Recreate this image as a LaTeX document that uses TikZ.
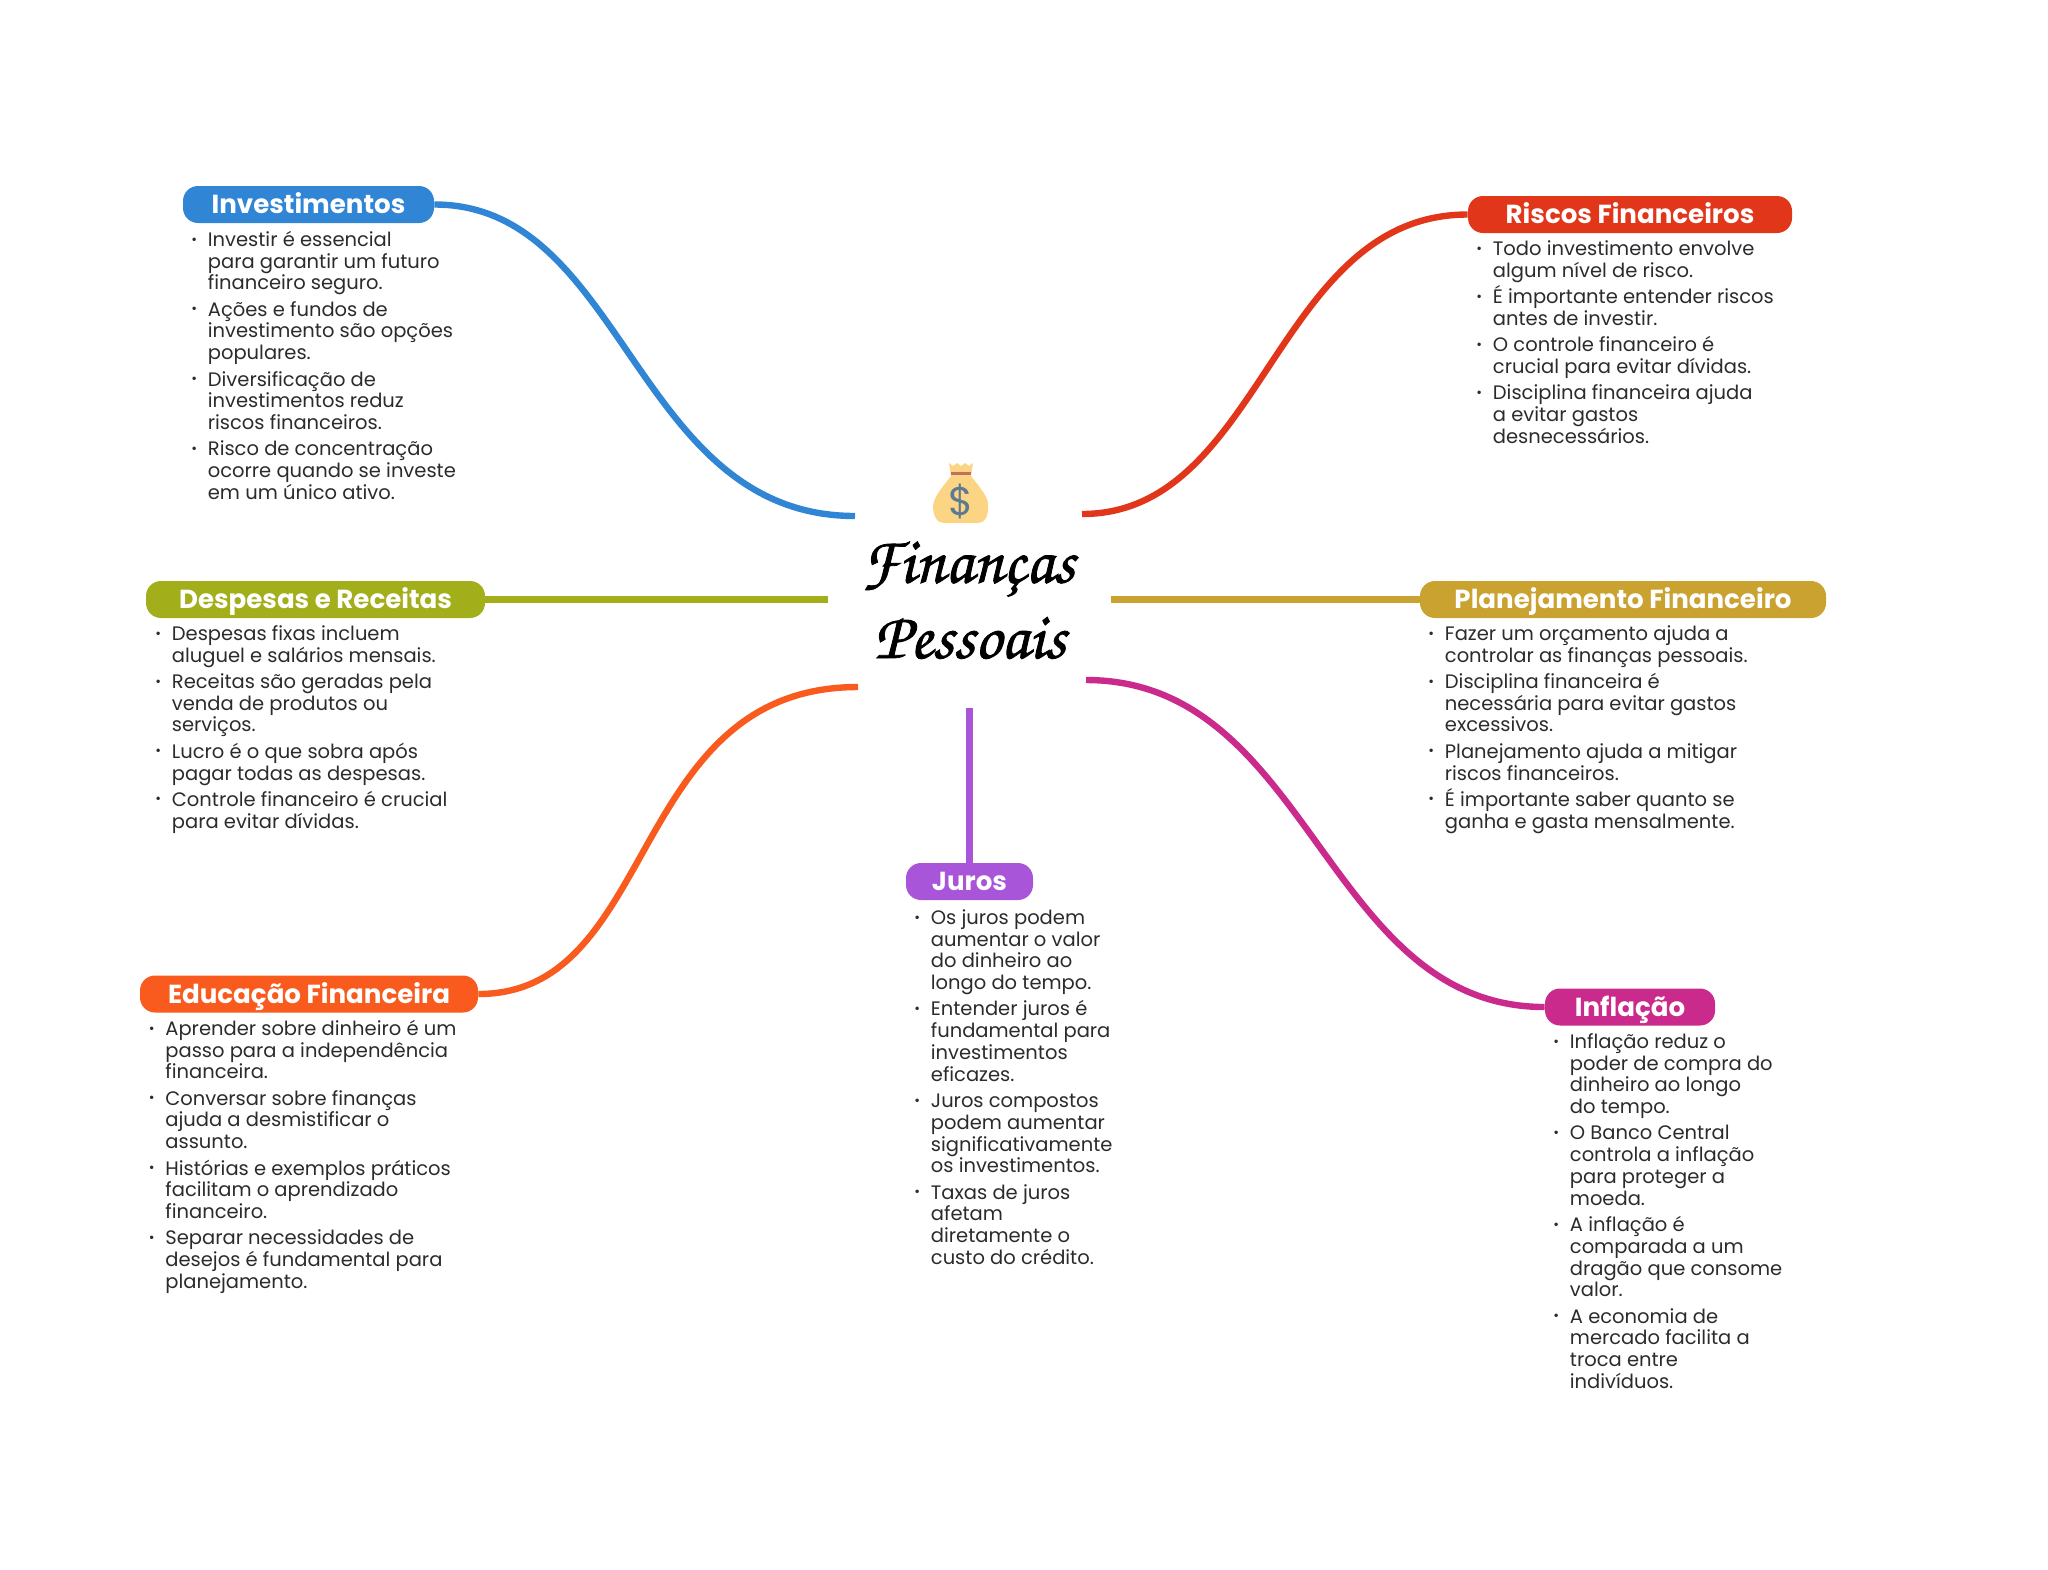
\documentclass[tikz,border=0pt]{standalone}
\usepackage{fontspec}
\setmainfont{Poppins}
\newfontfamily\titlefont[AutoFakeBold=1.2]{TeX Gyre Chorus}
\usepackage{tikz}
\usetikzlibrary{positioning}

\definecolor{invblue}{HTML}{3085D4}
\definecolor{riskred}{HTML}{E2361A}
\definecolor{despolive}{HTML}{A2AF1B}
\definecolor{plangold}{HTML}{C9A22F}
\definecolor{eduorange}{HTML}{F95B1F}
\definecolor{jurpurple}{HTML}{A855D9}
\definecolor{inflmagenta}{HTML}{C92A8B}
\definecolor{bagyellow}{HTML}{FBD484}
\definecolor{bagband}{HTML}{C4705A}
\definecolor{bagsign}{HTML}{5E7A93}
\definecolor{bodygray}{HTML}{2B2B2B}

\newcommand{\bul}{\rule{0pt}{8pt}\llap{\raisebox{1.2pt}{\fontsize{7}{7}\selectfont\textbullet}\hspace{5.4pt}}}

\begin{document}
\begin{tikzpicture}[
  x=0.5pt, y=-0.5pt,
  topic/.style={rounded corners=7.5pt, text=white, minimum height=18.5pt,
                inner sep=0pt, text height=11pt, text depth=2pt,
                font=\fontsize{13.05}{13}\selectfont\bfseries},
  notes/.style={anchor=north west, inner sep=0pt, align=left, text=bodygray,
                font=\fontsize{9.75}{10.87}\selectfont},
  title/.style={font=\titlefont\fontsize{33}{33}\selectfont\bfseries},
  link/.style={line width=3.2pt},
]
\useasboundingbox (0,0) rectangle (2048,1569);

% centre
\node[title] (titleA) at (968,569) {Finanças};
\node[title] (titleB) at (970,638) {Pessoais};

% money bag
\fill[bagyellow] (949,463) -- (953,466) -- (957,463) -- (961,466) -- (965,463) -- (969,466) -- (973,463)
  -- (971,476) .. controls (980,488) and (990,498) .. (988,508)
  .. controls (988,518) and (984,523) .. (978,523) -- (944,523)
  .. controls (937,523) and (933,516) .. (933,506) .. controls (934,496) and (942,488) .. (951,476) -- cycle;
\fill[bagband] (951,472) rectangle (971,475);
\node[text=bagsign, font=\fontsize{20}{20}\selectfont] (bagsign) at (961,501) {\$};

% topics
\node[topic, fill=invblue, minimum width=125.5pt] (inv) at (308.5,204.5) {Investimentos};
\node[topic, fill=riskred, minimum width=162pt] (risk) at (1630,214.5) {Riscos Financeiros};
\node[topic, fill=despolive, minimum width=169.5pt] (desp) at (315.5,599.5) {Despesas e Receitas};
\node[topic, fill=plangold, minimum width=203pt] (plan) at (1623,599.5) {Planejamento Financeiro};
\node[topic, fill=eduorange, minimum width=169pt] (edu) at (309,994) {Educação Financeira};
\node[topic, fill=jurpurple, minimum width=63.5pt] (jur) at (969.5,881.5) {Juros};
\node[topic, fill=inflmagenta, minimum width=85pt] (infl) at (1630,1007) {Inflação};

% free ends near the centre
\coordinate (cinv) at (855,516);
\coordinate (crisk) at (1082,514);
\coordinate (cdesp) at (828,599.5);
\coordinate (cplan) at (1111,599.5);
\coordinate (cedu) at (858,687);
\coordinate (cjur) at (969.5,708);
\coordinate (cinfl) at (1086,680);

\draw[link, invblue] (inv.east) .. controls +(191,0) and +(-221,0) .. (cinv);
\draw[link, riskred] (risk.west) .. controls +(-193,0) and +(181,0) .. (crisk);
\draw[link, despolive] (desp.east) -- (cdesp);
\draw[link, plangold] (plan.west) -- (cplan);
\draw[link, eduorange] (edu.east) .. controls +(181,0) and +(-231,0) .. (cedu);
\draw[link, jurpurple] (jur.north) -- (cjur);
\draw[link, inflmagenta] (infl.west) .. controls +(-220,0) and +(225,0) .. (cinfl);

% notes
\node[notes] (invnotes) at (207.5,230) {\bul Investir é essencial\\para garantir um futuro\\financeiro seguro.\\[2.3pt]
  \bul Ações e fundos de\\investimento são opções\\populares.\\[2.3pt]
  \bul Diversificação de\\investimentos reduz\\riscos financeiros.\\[2.3pt]
  \bul Risco de concentração\\ocorre quando se investe\\em um único ativo.};
\node[notes] (risknotes) at (1492.5,239) {\bul Todo investimento envolve\\algum nível de risco.\\[2.3pt]
  \bul \smash{É} importante entender riscos\\antes de investir.\\[2.3pt]
  \bul O controle financeiro é\\crucial para evitar dívidas.\\[2.3pt]
  \bul Disciplina financeira ajuda\\a evitar gastos\\desnecessários.};
\node[notes] (despnotes) at (171.5,624) {\bul Despesas fixas incluem\\aluguel e salários mensais.\\[2.3pt]
  \bul Receitas são geradas pela\\venda de produtos ou\\serviços.\\[2.3pt]
  \bul Lucro é o que sobra após\\pagar todas as despesas.\\[2.3pt]
  \bul Controle financeiro é crucial\\para evitar dívidas.};
\node[notes] (plannotes) at (1444.5,624) {\bul Fazer um orçamento ajuda a\\controlar as finanças pessoais.\\[2.3pt]
  \bul Disciplina financeira é\\necessária para evitar gastos\\excessivos.\\[2.3pt]
  \bul Planejamento ajuda a mitigar\\riscos financeiros.\\[2.3pt]
  \bul \smash{É} importante saber quanto se\\ganha e gasta mensalmente.};
\node[notes] (edunotes) at (165,1019) {\bul Aprender sobre dinheiro é um\\passo para a independência\\financeira.\\[2.3pt]
  \bul Conversar sobre finanças\\ajuda a desmistificar o\\assunto.\\[2.3pt]
  \bul Histórias e exemplos práticos\\facilitam o aprendizado\\financeiro.\\[2.3pt]
  \bul Separar necessidades de\\desejos é fundamental para\\planejamento.};
\node[notes] (jurnotes) at (930.5,908) {\bul Os juros podem\\aumentar o valor\\do dinheiro ao\\longo do tempo.\\[2.3pt]
  \bul Entender juros é\\fundamental para\\investimentos\\eficazes.\\[2.3pt]
  \bul Juros compostos\\podem aumentar\\significativamente\\os investimentos.\\[2.3pt]
  \bul Taxas de juros\\afetam\\diretamente o\\custo do crédito.};
\node[notes] (inflnotes) at (1569.5,1032) {\bul Inflação reduz o\\poder de compra do\\dinheiro ao longo\\do tempo.\\[2.3pt]
  \bul O Banco Central\\controla a inflação\\para proteger a\\moeda.\\[2.3pt]
  \bul A inflação é\\comparada a um\\dragão que consome\\valor.\\[2.3pt]
  \bul A economia de\\mercado facilita a\\troca entre\\indivíduos.};
\end{tikzpicture}
\end{document}
